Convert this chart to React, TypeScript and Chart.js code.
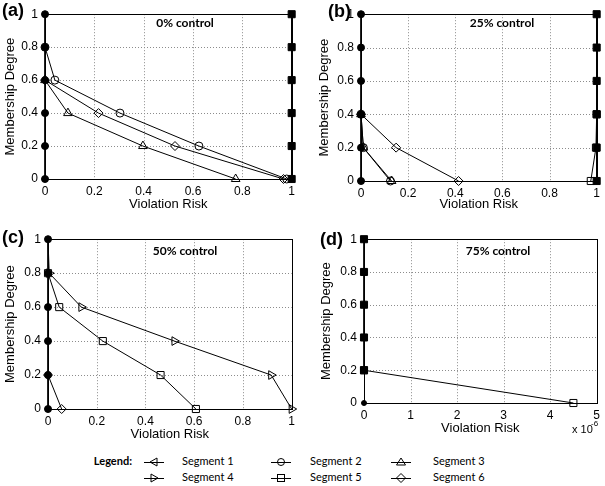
import React, { useEffect, useRef } from "react";
import { Chart, registerables } from "chart.js";
Chart.register(...registerables);

// ---------- tick values / labels ----------
const UNIT_TICK_VALUES = [0, 0.2, 0.4, 0.6, 0.8, 1];
const UNIT_TICK_LABELS = ["0", "0.2", "0.4", "0.6", "0.8", "1"];
const D_X_TICK_VALUES = [0, 1, 2, 3, 4, 5];
const D_X_TICK_LABELS = ["0", "1", "2", "3", "4", "5"];

// ---------- panel (a) 0% control ----------
const A_AXIS0_X = [0, 0, 0, 0, 0, 0];
const A_AXIS0_Y = [1, 0.8, 0.6, 0.4, 0.2, 0];
const A_SEG2_X = [0, 0.04, 0.304, 0.624, 0.98];
const A_SEG2_Y = [0.8, 0.6, 0.4, 0.2, 0];
const A_SEG3_X = [0, 0.093, 0.397, 0.773];
const A_SEG3_Y = [0.6, 0.4, 0.2, 0];
const A_SEG6_X = [0, 0.217, 0.527, 0.967];
const A_SEG6_Y = [0.6, 0.4, 0.2, 0];
const A_AXIS1_X = [1, 1, 1, 1, 1, 1];
const A_AXIS1_Y = [1, 0.8, 0.6, 0.4, 0.2, 0];

// ---------- panel (b) 25% control ----------
const B_AXIS0_X = [0, 0, 0, 0, 0, 0];
const B_AXIS0_Y = [1, 0.8, 0.6, 0.4, 0.2, 0];
const B_SEG2_X = [0, 0.01, 0.125];
const B_SEG2_Y = [0.4, 0.2, 0];
const B_SEG3_X = [0, 0.01, 0.13];
const B_SEG3_Y = [0.4, 0.2, 0];
const B_SEG6_X = [0, 0.149, 0.414];
const B_SEG6_Y = [0.4, 0.2, 0];
const B_AXIS1_X = [1, 1, 1, 1, 1, 1];
const B_AXIS1_Y = [1, 0.8, 0.6, 0.4, 0.2, 0];
const B_SEG5_X = [1, 0.997, 0.975];
const B_SEG5_Y = [0.4, 0.2, 0];

// ---------- panel (c) 50% control ----------
const C_AXIS0_X = [0, 0, 0, 0, 0, 0];
const C_AXIS0_Y = [1, 0.8, 0.6, 0.4, 0.2, 0];
const C_SEG1_X = [0, 0.005];
const C_SEG1_Y = [1, 0.8];
const C_SEG4_X = [0.005, 0.137, 0.519, 0.916, 1];
const C_SEG4_Y = [0.8, 0.6, 0.4, 0.2, 0];
const C_SEG5_X = [0, 0.046, 0.225, 0.462, 0.607];
const C_SEG5_Y = [0.8, 0.6, 0.4, 0.2, 0];
const C_SEG6_X = [0, 0.056];
const C_SEG6_Y = [0.2, 0];

// ---------- panel (d) 75% control (x in 1e-6) ----------
const D_AXIS0_X = [0, 0, 0, 0, 0];
const D_AXIS0_Y = [1, 0.8, 0.6, 0.4, 0.2];
const D_ORIGIN_X = [0];
const D_ORIGIN_Y = [0];
const D_SEG5_X = [0, 4.5];
const D_SEG5_Y = [0.2, 0];

// ---------- legend ----------
const LEGEND_LABELS = ["Segment 1", "Segment 2", "Segment 3", "Segment 4", "Segment 5", "Segment 6"];

const TICK_FONT = "'Liberation Sans', Arial, sans-serif";
const NOTE_FONT = "Lato, 'Open Sans', sans-serif";

type Series = {
  x: number[];
  y: number[];
  marker: string;
  rotation?: number;
  radius: number;
  filled: boolean;
};

type Panel = {
  left: number; top: number; width: number; height: number;
  padTop: number; padRight: number; yW: number; xH: number;
  yTitlePad: number; xTitlePad: number;
  xMax: number; xTicks: number[]; xLabels: string[];
  title: string; titleX: number; titleY: number;
  letter: string; letterX: number; letterY: number;
  exponent?: boolean;
  series: Series[];
};

const tri = (x: number[], y: number[], rot: number): Series => ({ x, y, marker: "triangle", rotation: rot, radius: 5, filled: false });
const circ = (x: number[], y: number[]): Series => ({ x, y, marker: "circle", radius: 4, filled: false });
const sq = (x: number[], y: number[]): Series => ({ x, y, marker: "rect", radius: 5, filled: false });
const dia = (x: number[], y: number[]): Series => ({ x, y, marker: "rectRot", radius: 4.5, filled: false });
const axisDots = (x: number[], y: number[]): Series => ({ x, y, marker: "circle", radius: 3.5, filled: true });
const axisSquares = (x: number[], y: number[]): Series => ({ x, y, marker: "rect", radius: 5, filled: true });

const PANELS: Panel[] = [
  {
    left: 0, top: 0, width: 300, height: 215, padTop: 8, padRight: 5, yW: 45, xH: 36,
    yTitlePad: 3, xTitlePad: 3, xMax: 1, xTicks: UNIT_TICK_VALUES, xLabels: UNIT_TICK_LABELS,
    title: "0% control", titleX: 185, titleY: 23, letter: "(a)", letterX: 2, letterY: 11,
    series: [
      axisDots(A_AXIS0_X, A_AXIS0_Y),
      axisSquares(A_AXIS1_X, A_AXIS1_Y),
      circ(A_SEG2_X, A_SEG2_Y),
      tri(A_SEG3_X, A_SEG3_Y, 0),
      dia(A_SEG6_X, A_SEG6_Y),
    ],
  },
  {
    left: 300, top: 0, width: 305, height: 215, padTop: 9, padRight: 4, yW: 61, xH: 34,
    yTitlePad: 17, xTitlePad: 3, xMax: 1, xTicks: UNIT_TICK_VALUES, xLabels: UNIT_TICK_LABELS,
    title: "25% control", titleX: 202, titleY: 23, letter: "(b)", letterX: 28, letterY: 12,
    series: [
      axisDots(B_AXIS0_X, B_AXIS0_Y),
      axisSquares(B_AXIS1_X, B_AXIS1_Y),
      circ(B_SEG2_X, B_SEG2_Y),
      tri(B_SEG3_X, B_SEG3_Y, 0),
      dia(B_SEG6_X, B_SEG6_Y),
      sq(B_SEG5_X, B_SEG5_Y),
    ],
  },
  {
    left: 0, top: 225, width: 300, height: 220, padTop: 8, padRight: 6, yW: 48, xH: 36,
    yTitlePad: 3, xTitlePad: 3, xMax: 1, xTicks: UNIT_TICK_VALUES, xLabels: UNIT_TICK_LABELS,
    title: "50% control", titleX: 185, titleY: 26, letter: "(c)", letterX: 2, letterY: 13,
    series: [
      axisDots(C_AXIS0_X, C_AXIS0_Y),
      { x: C_SEG1_X, y: C_SEG1_Y, marker: "circle", radius: 0, filled: true },
      tri(C_SEG4_X, C_SEG4_Y, 90),
      sq(C_SEG5_X, C_SEG5_Y),
      dia(C_SEG6_X, C_SEG6_Y),
    ],
  },
  {
    left: 300, top: 225, width: 305, height: 220, padTop: 8, padRight: 4, yW: 64, xH: 42,
    yTitlePad: 19, xTitlePad: 9, xMax: 5, xTicks: D_X_TICK_VALUES, xLabels: D_X_TICK_LABELS,
    title: "75% control", titleX: 198, titleY: 26, letter: "(d)", letterX: 20, letterY: 15,
    exponent: true,
    series: [
      axisSquares(D_AXIS0_X, D_AXIS0_Y),
      { x: D_ORIGIN_X, y: D_ORIGIN_Y, marker: "circle", radius: 2.5, filled: true },
      sq(D_SEG5_X, D_SEG5_Y),
    ],
  },
];

function decorPlugin(p: Panel) {
  return {
    id: "decor",
    beforeDatasetsDraw(chart: any) {
      const { ctx, chartArea: ca, scales } = chart;
      ctx.save();
      ctx.lineWidth = 1;
      ctx.strokeStyle = "#8c8c8c";
      ctx.setLineDash([1, 2]);
      for (const v of p.xTicks) {
        const px = Math.round(scales.x.getPixelForValue(v)) + 0.5;
        if (px <= ca.left + 2 || px >= ca.right - 2) continue;
        ctx.beginPath();
        ctx.moveTo(px, ca.top);
        ctx.lineTo(px, ca.bottom);
        ctx.stroke();
      }
      for (const v of UNIT_TICK_VALUES) {
        const py = Math.round(scales.y.getPixelForValue(v)) + 0.5;
        if (py <= ca.top + 2 || py >= ca.bottom - 2) continue;
        ctx.beginPath();
        ctx.moveTo(ca.left, py);
        ctx.lineTo(ca.right, py);
        ctx.stroke();
      }
      ctx.setLineDash([]);
      ctx.strokeStyle = "#000";
      ctx.strokeRect(Math.round(ca.left) + 0.5, Math.round(ca.top) + 0.5,
        Math.round(ca.right - ca.left), Math.round(ca.bottom - ca.top));
      ctx.restore();
    },
    afterDraw(chart: any) {
      const { ctx } = chart;
      ctx.save();
      ctx.fillStyle = "#000";
      ctx.textBaseline = "middle";
      ctx.textAlign = "center";
      ctx.font = `bold 12px ${NOTE_FONT}`;
      ctx.fillText(p.title, p.titleX, p.titleY);
      ctx.textAlign = "left";
      ctx.font = `bold 18px ${TICK_FONT}`;
      ctx.fillText(p.letter, p.letterX, p.letterY);
      if (p.exponent) {
        ctx.textBaseline = "alphabetic";
        ctx.font = `11px ${TICK_FONT}`;
        ctx.fillText("x 10", 272, 208);
        ctx.font = `8px ${TICK_FONT}`;
        ctx.fillText("-6", 291, 201);
      }
      ctx.restore();
    },
  };
}

function PanelChart({ p }: { p: Panel }) {
  const ref = useRef<HTMLCanvasElement | null>(null);
  useEffect(() => {
    if (!ref.current) return;
    const datasets = p.series.map((s) => ({
      data: s.x.map((x, i) => ({ x, y: s.y[i] })),
      showLine: true,
      borderColor: "#000",
      borderWidth: 1,
      pointStyle: s.marker,
      pointRotation: s.rotation || 0,
      pointRadius: s.radius,
      pointBackgroundColor: s.filled ? "#000" : "rgba(0,0,0,0)",
      pointBorderColor: "#000",
      pointBorderWidth: 1,
      clip: false,
      tension: 0,
      fill: false,
    }));
    const chart = new Chart(ref.current, {
      type: "scatter",
      data: { datasets },
      options: {
        responsive: false,
        animation: false,
        events: [],
        layout: { padding: { top: p.padTop, right: p.padRight, left: 0, bottom: 0 } },
        plugins: { legend: { display: false }, tooltip: { enabled: false } },
        scales: {
          x: {
            type: "linear",
            min: 0,
            max: p.xMax,
            afterBuildTicks: (s: any) => { s.ticks = p.xTicks.map((v) => ({ value: v })); },
            afterFit: (s: any) => { s.height = p.xH; },
            ticks: {
              callback: (_v: any, i: number) => p.xLabels[i],
              font: { family: TICK_FONT, size: 12 },
              color: "#000",
              padding: 5,
              maxRotation: 0,
              autoSkip: false,
            },
            grid: { display: false, drawTicks: false },
            border: { display: false },
            title: {
              display: true,
              text: "Violation Risk",
              font: { family: TICK_FONT, size: 13 },
              color: "#000",
              padding: { top: 0, bottom: p.xTitlePad },
            },
          },
          y: {
            type: "linear",
            min: 0,
            max: 1,
            afterBuildTicks: (s: any) => { s.ticks = UNIT_TICK_VALUES.map((v) => ({ value: v })); },
            afterFit: (s: any) => { s.width = p.yW; },
            ticks: {
              callback: (_v: any, i: number) => UNIT_TICK_LABELS[i],
              font: { family: TICK_FONT, size: 12 },
              color: "#000",
              padding: 7,
              autoSkip: false,
            },
            grid: { display: false, drawTicks: false },
            border: { display: false },
            title: {
              display: true,
              text: "Membership Degree",
              font: { family: TICK_FONT, size: 13 },
              color: "#000",
              padding: { top: p.yTitlePad, bottom: 0 },
            },
          },
        },
      } as any,
      plugins: [decorPlugin(p)],
    });
    return () => chart.destroy();
  }, [p]);
  return (
    <canvas
      ref={ref}
      width={p.width}
      height={p.height}
      style={{ position: "absolute", left: p.left, top: p.top, width: p.width, height: p.height }}
    />
  );
}

function Marker({ kind }: { kind: number }) {
  const c = 10, m = 6;
  let shape: React.ReactNode = null;
  const st = { fill: "none", stroke: "#000", strokeWidth: 1 };
  if (kind === 0) shape = <polygon points={`${c - 4},${m} ${c + 3},${m - 4} ${c + 3},${m + 4}`} {...st} />;
  if (kind === 1) shape = <circle cx={c} cy={m} r={3.5} {...st} />;
  if (kind === 2) shape = <polygon points={`${c},${m - 4} ${c + 4.5},${m + 3} ${c - 4.5},${m + 3}`} {...st} />;
  if (kind === 3) shape = <polygon points={`${c + 4},${m} ${c - 3},${m - 4} ${c - 3},${m + 4}`} {...st} />;
  if (kind === 4) shape = <rect x={c - 3.5} y={m - 3.5} width={7} height={7} {...st} />;
  if (kind === 5) shape = <polygon points={`${c},${m - 4.5} ${c + 4.5},${m} ${c},${m + 4.5} ${c - 4.5},${m}`} {...st} />;
  return (
    <svg width={20} height={12} style={{ display: "block" }}>
      <line x1={0} y1={m + 0.5} x2={20} y2={m + 0.5} stroke="#000" strokeWidth={1} />
      {shape}
    </svg>
  );
}

const LEGEND_COL_ICON = [144, 271, 391];
const LEGEND_COL_TEXT = [182, 310, 433];
const LEGEND_ROW_Y = [462, 478];

export default function App() {
  return (
    <div style={{ position: "absolute", left: 0, top: 0, width: 605, height: 486, background: "#fff", overflow: "hidden" }}>
      {PANELS.map((p, i) => <PanelChart key={i} p={p} />)}
      <div style={{ position: "absolute", left: 60, width: 72, top: LEGEND_ROW_Y[0] - 8, height: 16, lineHeight: "16px", textAlign: "right", font: `bold 11px ${NOTE_FONT}` }}>Legend:</div>
      {LEGEND_LABELS.map((lab, i) => {
        const col = i % 3, row = Math.floor(i / 3);
        const y = LEGEND_ROW_Y[row];
        return (
          <React.Fragment key={lab}>
            <div style={{ position: "absolute", left: LEGEND_COL_ICON[col], top: y - 6 }}>
              <Marker kind={i} />
            </div>
            <div style={{ position: "absolute", left: LEGEND_COL_TEXT[col], top: y - 8, height: 16, lineHeight: "16px", font: `11px ${NOTE_FONT}`, whiteSpace: "nowrap" }}>{lab}</div>
          </React.Fragment>
        );
      })}
    </div>
  );
}
